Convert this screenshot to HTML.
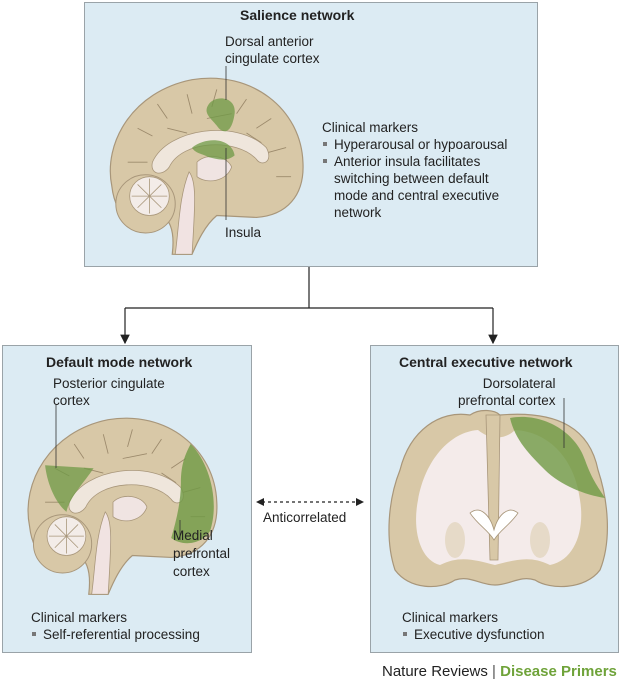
<!DOCTYPE html>
<html><head><meta charset="utf-8"><style>
body{margin:0;width:621px;height:685px;background:#fff;position:relative;overflow:hidden;font-family:"Liberation Sans",sans-serif;color:#222}
.box{position:absolute;background:#dcebf3;border:1.5px solid #9aa3a8;box-sizing:border-box}
.t{position:absolute;font-size:13.5px;line-height:17px;white-space:nowrap}
.b{font-weight:bold;font-size:14px}
.bl::before{content:"";display:inline-block;width:4px;height:4px;background:#777;margin:0 7px 3px 1px}
svg{position:absolute;left:0;top:0}
</style></head><body>
<div class="box" style="left:84px;top:2px;width:454px;height:265px"></div>
<div class="box" style="left:2px;top:345px;width:250px;height:308px"></div>
<div class="box" style="left:370px;top:345px;width:249px;height:308px"></div>

<svg width="621" height="685">
<defs>
<g id="brain">
 <path d="M75,190 C78,165 72,150 60,150 C40,165 18,155 14,120 C5,75 35,22 95,10 C155,0 205,40 207,95 C209,130 190,150 160,152 L120,150 C108,160 100,178 95,190Z" fill="#d8c8a7" stroke="#a8967a" stroke-width="1.2"/>
 <g fill="none" stroke="#9c8a6c" stroke-width="0.9">
  <path d="M40,60 l15,8 M60,35 l10,15 M90,25 l5,20 M120,20 l-5,18 M150,30 l-10,15 M175,50 l-15,10 M190,80 l-18,5 M195,110 l-15,0 M30,95 l20,0 M35,120 l18,-5 M70,60 l20,5 M110,50 l25,-5 M150,65 l15,10"/>
 </g>
 <path d="M55,95 C70,60 140,50 170,80 C178,95 165,100 160,92 C140,70 85,72 72,100 C65,110 52,108 55,95Z" fill="#efe6dc" stroke="#a8967a" stroke-width="0.8"/>
 <path d="M100,95 C110,85 130,88 135,100 C130,115 110,118 100,110Z" fill="#f0e4e2" stroke="#a8967a" stroke-width="0.8"/>
 <path d="M92,105 C100,115 98,140 95,190 L78,190 C82,160 82,130 92,105Z" fill="#f1e3e2" stroke="#a8967a" stroke-width="0.8"/>
 <circle cx="48" cy="138" r="30" fill="#d8c8a7" stroke="#a8967a" stroke-width="1"/>
 <circle cx="52" cy="130" r="20" fill="#f3ece8" stroke="#a8967a" stroke-width="0.8"/>
 <g stroke="#a8967a" stroke-width="0.8"><path d="M52,112 v36 M34,130 h36 M40,118 l24,24 M64,118 l-24,24"/></g>
</g>
<marker id="ah" markerWidth="8" markerHeight="8" refX="7" refY="4" orient="auto"><path d="M0,0 L8,4 L0,8 Z" fill="#222"/></marker>
</defs>

<g transform="translate(98,70) scale(0.99,0.97)"><use href="#brain"/>
 <path d="M112,35 C120,25 140,28 138,45 C136,60 130,68 122,60 C115,50 105,45 112,35Z" fill="#6f9a45" opacity="0.75"/>
 <path d="M95,80 C110,68 135,70 138,88 C130,95 120,92 112,90 C105,86 98,86 95,80Z" fill="#6f9a45" opacity="0.75"/>
</g>
<line x1="226" y1="66" x2="226" y2="100" stroke="#333" stroke-width="0.8"/>
<line x1="226" y1="148" x2="226" y2="220" stroke="#333" stroke-width="0.8"/>

<g transform="translate(16,410) scale(0.97,0.97)"><use href="#brain"/>
 <path d="M30,57 L80,60 C70,75 55,90 52,105 C40,95 32,75 30,57Z" fill="#6f9a45" opacity="0.75"/>
 <path d="M180,35 C200,55 210,95 200,125 C190,140 170,140 160,132 C165,115 170,95 170,75 C170,55 175,45 180,35Z" fill="#6f9a45" opacity="0.8"/>
</g>
<line x1="56" y1="405" x2="56" y2="468" stroke="#333" stroke-width="0.8"/>
<line x1="180" y1="520" x2="180" y2="540" stroke="#333" stroke-width="0.8"/>

<g>
 <path d="M470,415 C440,410 410,430 400,470 C388,500 385,540 395,570 C410,590 440,590 455,580 C470,575 480,585 495,585 C510,585 520,575 535,580 C550,590 585,590 600,570 C612,540 608,500 598,470 C590,430 560,410 500,415 C495,410 480,408 470,415Z" fill="#d8c8a7" stroke="#a8967a" stroke-width="1.2"/>
 <path d="M478,430 C450,432 425,460 418,500 C412,530 420,560 440,565 C460,555 475,560 495,565 C515,560 530,555 550,565 C575,560 585,530 580,500 C575,460 550,432 515,430 C505,440 490,440 478,430Z" fill="#f4ebea"/>
 <path d="M486,415 L500,415 L498,560 L490,560Z" fill="#d8c8a7" stroke="#a8967a" stroke-width="0.8"/>
 <path d="M470,513 C480,505 490,515 494,530 C498,515 508,505 518,513 C510,525 500,530 494,540 C488,530 478,525 470,513Z" fill="#fff" stroke="#a8967a" stroke-width="0.8"/>
 <path d="M510,418 C540,412 575,430 585,460 C592,480 600,490 605,498 C585,495 560,485 545,470 C530,455 515,440 510,418Z" fill="#6f9a45" opacity="0.8"/>
 <ellipse cx="455" cy="540" rx="10" ry="18" fill="#e6dac8"/><ellipse cx="540" cy="540" rx="10" ry="18" fill="#e6dac8"/>
</g>
<line x1="564" y1="398" x2="564" y2="448" stroke="#333" stroke-width="0.8"/>

<g stroke="#222" stroke-width="1.2" fill="none">
 <path d="M309,267 V308 M125,308 H493"/>
 <line x1="125" y1="308" x2="125" y2="343" marker-end="url(#ah)"/>
 <line x1="493" y1="308" x2="493" y2="343" marker-end="url(#ah)"/>
 <line x1="262" y1="502" x2="358" y2="502" stroke-dasharray="3,3"/>
</g>
<path d="M256,502 l8,-4 v8z M364,502 l-8,-4 v8z" fill="#222"/>
</svg>

<div class="t b" style="left:240px;top:7px">Salience network</div>
<div class="t" style="left:225px;top:33px">Dorsal anterior<br>cingulate cortex</div>
<div class="t" style="left:322px;top:119px">Clinical markers</div>
<div class="t bl" style="left:322px;top:136px">Hyperarousal or hypoarousal</div>
<div class="t bl" style="left:322px;top:153px">Anterior insula facilitates</div>
<div class="t" style="left:334px;top:170px">switching between default<br>mode and central executive<br>network</div>
<div class="t" style="left:225px;top:224px">Insula</div>

<div class="t b" style="left:46px;top:354px">Default mode network</div>
<div class="t" style="left:53px;top:375px">Posterior cingulate<br>cortex</div>
<div class="t" style="left:173px;top:527px;line-height:18px">Medial<br>prefrontal<br>cortex</div>
<div class="t" style="left:31px;top:609px">Clinical markers</div>
<div class="t bl" style="left:31px;top:626px">Self-referential processing</div>

<div class="t" style="left:263px;top:509px">Anticorrelated</div>

<div class="t b" style="left:399px;top:354px">Central executive network</div>
<div class="t" style="left:458px;top:375px;text-align:right">Dorsolateral<br>prefrontal cortex</div>
<div class="t" style="left:402px;top:609px">Clinical markers</div>
<div class="t bl" style="left:402px;top:626px">Executive dysfunction</div>

<div class="t" style="left:382px;top:663px;font-size:15px">Nature Reviews <span style="color:#555">|</span> <b style="color:#6fa33a">Disease Primers</b></div>
</body></html>
